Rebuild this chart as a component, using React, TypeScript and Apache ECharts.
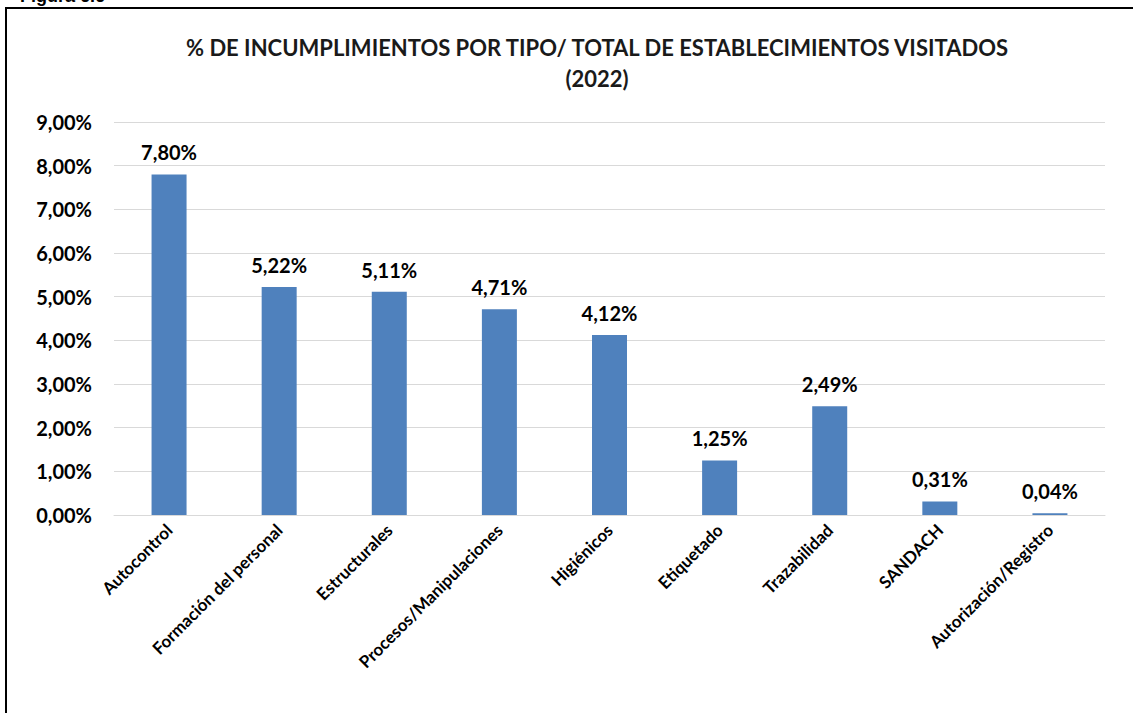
import React, { useEffect, useRef } from "react";
import * as echarts from "echarts";

const categories = [
  "Autocontrol",
  "Formación del personal",
  "Estructurales",
  "Procesos/Manipulaciones",
  "Higiénicos",
  "Etiquetado",
  "Trazabilidad",
  "SANDACH",
  "Autorización/Registro",
];
const values = [7.8, 5.22, 5.11, 4.71, 4.12, 1.25, 2.49, 0.31, 0.04];
const titleLines = [
  "% DE INCUMPLIMIENTOS POR TIPO/ TOTAL DE ESTABLECIMIENTOS VISITADOS",
  "(2022)",
];
const figureLabel = "Figura 6.6";

const fmt = (v: number) => v.toFixed(2).replace(".", ",") + "%";

export default function App() {
  const ref = useRef<HTMLDivElement>(null);
  useEffect(() => {
    if (!ref.current) return;
    const chart = echarts.init(ref.current, null, { renderer: "svg" });
    const font = "Lato";
    chart.setOption({
      animation: false,
      backgroundColor: "#ffffff",
      textStyle: { fontFamily: font },
      graphic: [
        {
          type: "rect",
          shape: { x: 6, y: 8, width: 1300, height: 900 },
          style: { fill: "none", stroke: "#000000", lineWidth: 2 },
          silent: true,
        },
        {
          type: "text",
          x: 20,
          y: 5,
          style: {
            text: figureLabel,
            font: "bold 18px 'Liberation Sans'",
            fill: "#000",
            verticalAlign: "bottom",
          },
        },
        {
          type: "text",
          x: 597,
          y: 47,
          style: {
            text: titleLines[0],
            font: `bold 22px ${font}`,
            fill: "#1a1a1a",
            align: "center",
            verticalAlign: "middle",
          },
        },
        {
          type: "text",
          x: 597,
          y: 78,
          style: {
            text: titleLines[1],
            font: `bold 22px ${font}`,
            fill: "#1a1a1a",
            align: "center",
            verticalAlign: "middle",
          },
        },
      ],
      grid: { left: 114, right: 28, top: 122, bottom: 198 },
      xAxis: {
        type: "category",
        data: categories,
        axisLine: { lineStyle: { color: "#d9d9d9", width: 1 } },
        axisTick: { show: false },
        axisLabel: {
          interval: 0,
          rotate: 45,
          margin: 12,
          color: "#000",
          fontWeight: "bold",
          fontSize: 17,
          fontFamily: font,
        },
      },
      yAxis: {
        type: "value",
        min: 0,
        max: 9,
        interval: 1,
        axisLine: { show: false },
        axisTick: { show: false },
        splitLine: { lineStyle: { color: "#d9d9d9", width: 1 } },
        axisLabel: {
          margin: 22,
          color: "#000",
          fontWeight: "bold",
          fontSize: 20,
          fontFamily: font,
          formatter: (v: number) => fmt(v),
        },
      },
      series: [
        {
          type: "bar",
          data: values,
          barWidth: 35,
          itemStyle: { color: "#4F81BD" },
          label: {
            show: true,
            position: "top",
            distance: 12,
            color: "#000",
            fontWeight: "bold",
            fontSize: 20,
            fontFamily: font,
            formatter: (p: any) => fmt(p.value),
          },
        },
      ],
    });
    return () => chart.dispose();
  }, []);
  return (
    <div
      ref={ref}
      style={{ position: "fixed", left: 0, top: 0, width: 1133, height: 713 }}
    />
  );
}
